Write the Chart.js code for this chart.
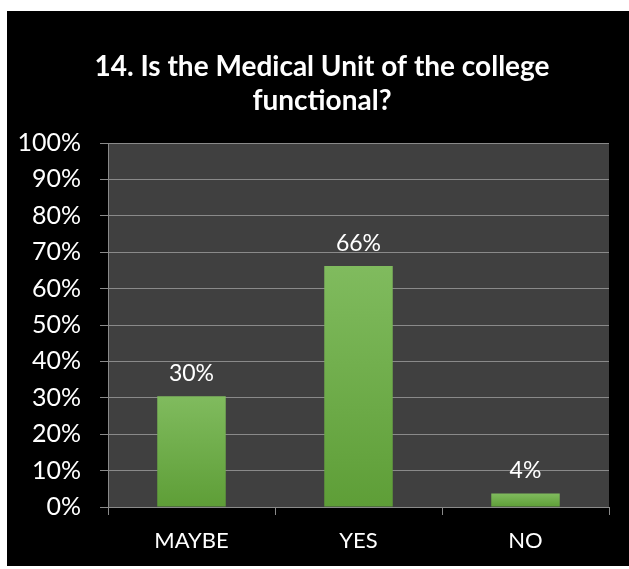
<!DOCTYPE html>
<html>
<head>
<meta charset="utf-8">
<script src="https://cdn.jsdelivr.net/npm/chart.js@4.4.1/dist/chart.umd.min.js"></script>
<style>
  html, body { margin: 0; padding: 0; background: #fff; }
  #frame { position: absolute; left: 7px; top: 11px; width: 622px; height: 555px; background: #000; }
  #chart { display: block; }
</style>
</head>
<body>
<div id="frame"><canvas id="chart" width="622" height="555"></canvas></div>
<script>
  const categories = ['MAYBE', 'YES', 'NO'];
  const shares = [30.4, 66.2, 3.7];
  const yTicks = [0, 10, 20, 30, 40, 50, 60, 70, 80, 90, 100];
  const titleLines = ['14. Is the Medical Unit of the college', 'functional?'];

  const fontFamily = 'Lato, "Open Sans", sans-serif';
  const gridColor = '#8a8a8a';

  // dark plot background behind the bars
  const plotBackground = {
    id: 'plotBackground',
    beforeDraw: function (chart) {
      let area = chart.chartArea,
          ctx = chart.ctx;
      ctx.save();
      ctx.fillStyle = '#404040';
      ctx.fillRect(area.left, area.top, area.right - area.left, area.bottom - area.top);
      ctx.restore();
    }
  };

  // two-line title centred on the whole frame
  const frameTitle = {
    id: 'frameTitle',
    afterDraw: function (chart) {
      let ctx = chart.ctx;
      ctx.save();
      ctx.fillStyle = '#ffffff';
      ctx.font = 'bold 28px ' + fontFamily;
      ctx.textAlign = 'center';
      ctx.textBaseline = 'middle';
      titleLines.forEach(function (line, i) {
        ctx.fillText(line, chart.width / 2 + 4, 56 + i * 34);
      });
      ctx.restore();
    }
  };

  // percentage labels above each bar
  const barLabels = {
    id: 'barLabels',
    afterDatasetsDraw: function (chart) {
      let ctx = chart.ctx,
          meta = chart.getDatasetMeta(0);
      ctx.save();
      ctx.fillStyle = '#ffffff';
      ctx.font = '23px ' + fontFamily;
      ctx.textAlign = 'center';
      ctx.textBaseline = 'bottom';
      meta.data.forEach(function (bar, i) {
        ctx.fillText(Math.round(shares[i]) + '%', bar.x, bar.y - 11);
      });
      ctx.restore();
    }
  };

  let barGradient = function (context) {
    let chart = context.chart,
        yScale = chart.scales.y;
    if (!yScale || !chart.chartArea || context.raw === undefined) {
      return '#6eae49';
    }
    let top = yScale.getPixelForValue(context.raw),
        bottom = yScale.getPixelForValue(0);
    if (!isFinite(top) || !isFinite(bottom) || top === bottom) {
      return '#6eae49';
    }
    let g = chart.ctx.createLinearGradient(0, top, 0, bottom);
    g.addColorStop(0, '#80bb5e');
    g.addColorStop(1, '#5e9e37');
    return g;
  };

  new Chart(document.getElementById('chart'), {
    type: 'bar',
    data: {
      labels: categories,
      datasets: [{
        data: shares,
        backgroundColor: barGradient,
        borderWidth: 0,
        barPercentage: 0.41,
        categoryPercentage: 1
      }]
    },
    options: {
      responsive: false,
      animation: false,
      layout: { padding: { left: 0, right: 20, top: 132, bottom: 0 } },
      plugins: {
        legend: { display: false },
        tooltip: { enabled: false },
        title: { display: false }
      },
      scales: {
        x: {
          grid: {
            offset: true,
            drawOnChartArea: false,
            drawTicks: true,
            tickLength: 8,
            color: gridColor
          },
          border: { color: gridColor, width: 1 },
          ticks: {
            color: '#ffffff',
            font: { family: fontFamily, size: 22 },
            padding: 13
          },
          afterFit: function (scale) { scale.height = 59; }
        },
        y: {
          min: 0,
          max: 100,
          afterBuildTicks: function (scale) {
            scale.ticks = yTicks.map(function (v) { return { value: v }; });
          },
          grid: {
            color: gridColor,
            tickLength: 8
          },
          border: { color: gridColor, width: 1 },
          ticks: {
            color: '#ffffff',
            font: { family: fontFamily, size: 25 },
            padding: 19,
            callback: function (v) { return v + '%'; }
          },
          afterFit: function (scale) { scale.width = 101; }
        }
      }
    },
    plugins: [plotBackground, barLabels, frameTitle]
  });
</script>
</body>
</html>
